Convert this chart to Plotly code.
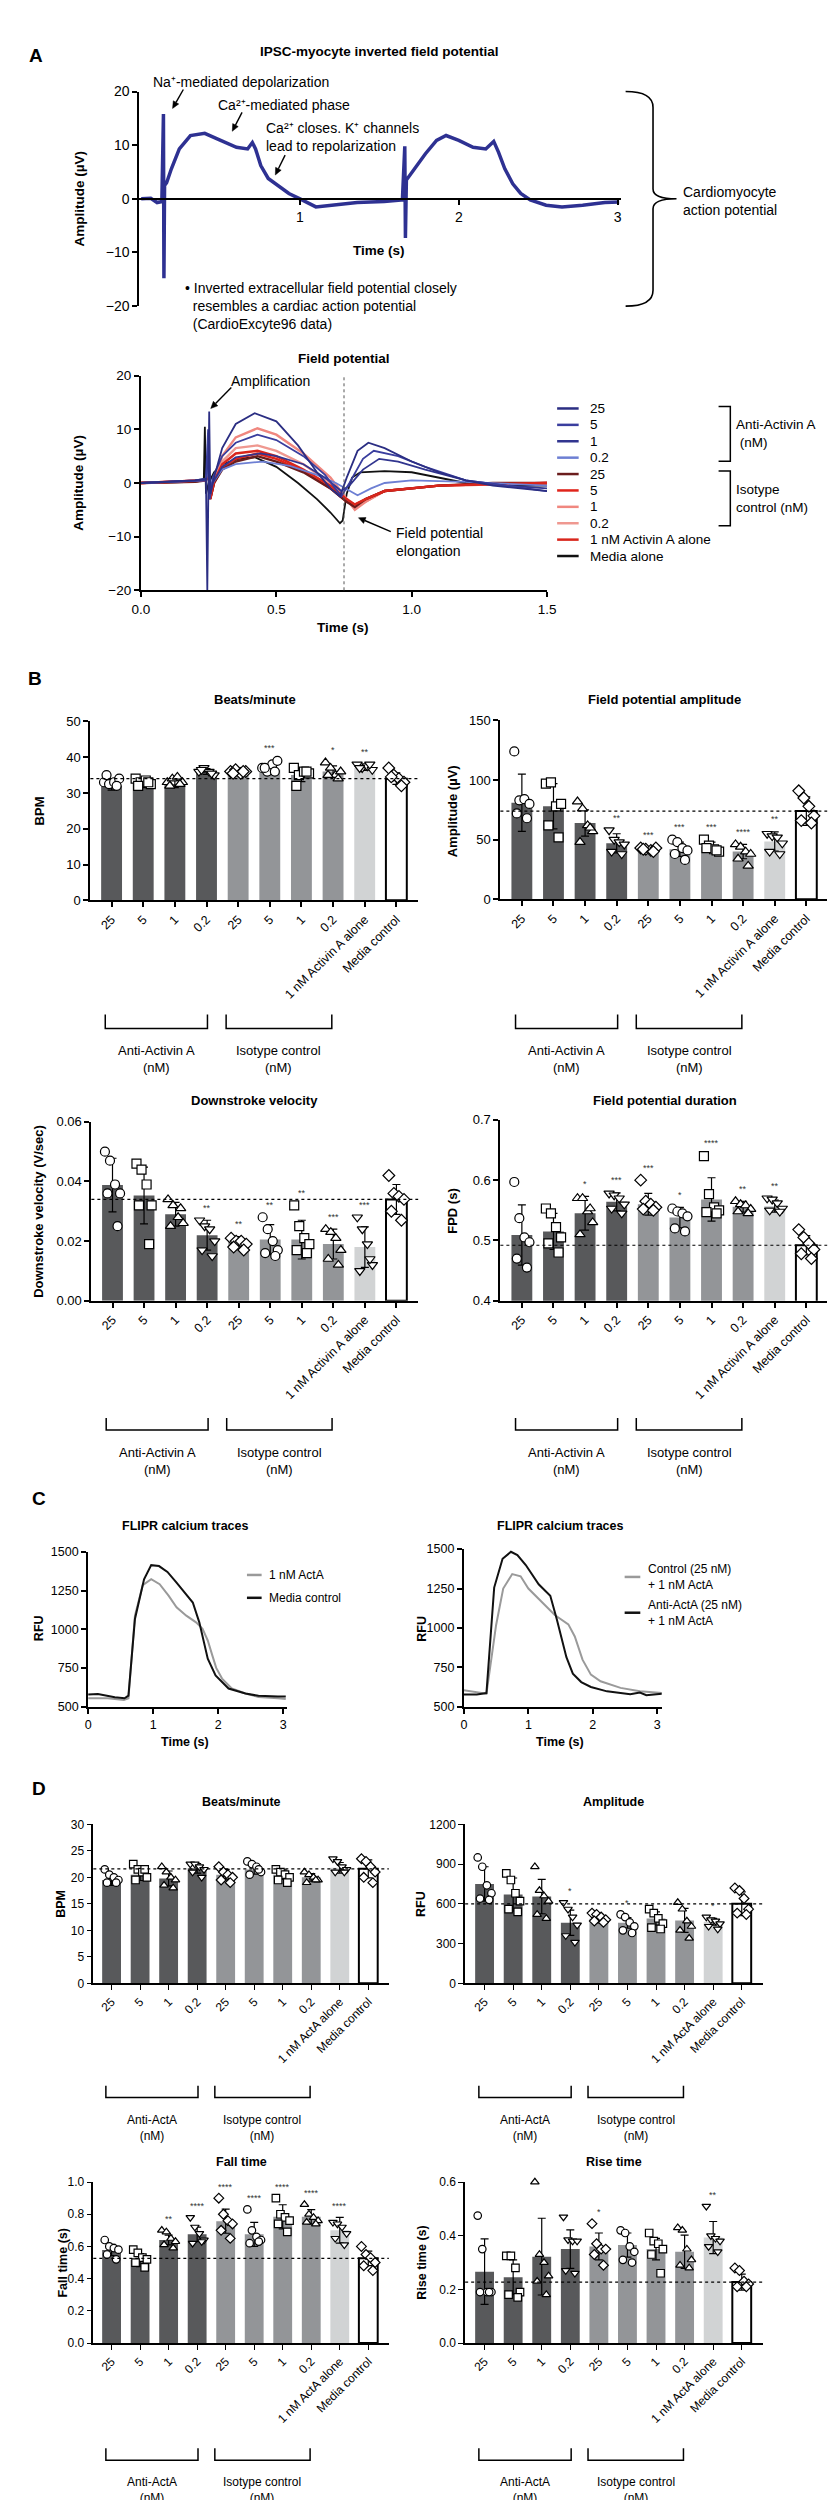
import math
import plotly.graph_objects as go

W, H = 837, 2500
FONT = "Arial, Liberation Sans, sans-serif"

# ---------------- A: inverted field potential (CardioExcyte96) ----------------
AP_TIME = [0.0, 0.06, 0.10, 0.13, 0.140, 0.143, 0.147, 0.16, 0.19, 0.24, 0.31, 0.40,
           0.50, 0.60, 0.67, 0.70, 0.72, 0.753, 0.80, 0.87, 0.93, 1.00, 1.10, 1.20,
           1.36, 1.53, 1.645, 1.660, 1.664, 1.670, 1.73, 1.79, 1.86, 1.92, 2.00, 2.09,
           2.17, 2.22, 2.25, 2.29, 2.34, 2.39, 2.45, 2.55, 2.65, 2.78, 2.92, 3.01]
AP_AMP = [0.0, 0.1, -0.7, -0.5, 15.8, -14.8, 2.5, 3.0, 5.6, 9.3, 11.8, 12.2,
          10.9, 9.6, 9.3, 10.5, 9.3, 6.2, 3.8, 2.2, 1.0, 0.0, -1.5, -1.2,
          -0.7, -0.5, -0.2, 9.8, -7.3, 3.5, 5.9, 8.4, 10.9, 11.8, 10.9, 9.6,
          9.3, 10.7, 8.7, 5.6, 2.8, 1.0, -0.2, -1.2, -1.5, -1.2, -0.7, -0.6]

# ---------------- A: field potential overlays ----------------
FP_LABELS = ["25", "5", "1", "0.2", "25", "5", "1", "0.2", "1 nM Activin A alone", "Media alone"]
FP_VLINE = 0.75

FP_A25_T = [0, 0.1, 0.2, 0.24, 0.245, 0.252, 0.256, 0.27, 0.3, 0.35, 0.42, 0.5, 0.58, 0.65,
            0.7, 0.735, 0.76, 0.8, 0.84, 0.9, 1.0, 1.1, 1.2, 1.3, 1.5]
FP_A25_V = [0, 0.2, 0.5, 0.8, -20, 13.3, -2, 1, 6.5, 11, 13, 11.5, 7, 2,
            -1, -2.5, 1, 6, 7.5, 6.5, 4, 2, 0.5, -0.5, -1.5]
FP_A5_T = [0, 0.2, 0.24, 0.248, 0.253, 0.265, 0.3, 0.35, 0.43, 0.5, 0.6, 0.68, 0.74, 0.77,
           0.82, 0.86, 0.95, 1.05, 1.2, 1.35, 1.5]
FP_A5_V = [0, 0.5, 0.8, 10, -3, 1, 5, 7.5, 9, 8, 5, 1.5, -2.5, 0,
           4.5, 6, 5, 3, 0.5, -0.5, -1.5]
FP_A1_T = [0, 0.2, 0.24, 0.248, 0.253, 0.265, 0.3, 0.35, 0.44, 0.5, 0.6, 0.68, 0.74, 0.77,
           0.82, 0.88, 0.95, 1.05, 1.2, 1.35, 1.5]
FP_A1_V = [0, 0.3, 0.5, 6, -3, 0, 3, 4.8, 5.5, 5, 3.5, 1, -1.5, -0.5,
           2.5, 4.5, 4, 2.5, 0.5, -0.5, -1]
FP_A02_T = [0, 0.2, 0.24, 0.248, 0.253, 0.265, 0.3, 0.35, 0.45, 0.55, 0.65, 0.72, 0.77, 0.8,
            0.85, 0.9, 1.0, 1.2, 1.5]
FP_A02_V = [0, 0.3, 0.5, 3, -2, 0, 2.5, 3.5, 4, 3.2, 1.5, 0, -1.5, -2.3,
            -1, 0, 0.5, 0.2, -0.5]
FP_ISO_T = [0, 0.2, 0.24, 0.25, 0.256, 0.27, 0.3, 0.35, 0.43, 0.5, 0.6, 0.7, 0.76, 0.79,
            0.83, 0.9, 1.0, 1.1, 1.3, 1.5]
FP_I25_V = [0, 0.2, 0.5, 2, -3, 0, 2.5, 4, 5, 4, 2, -1, -3.5, -4.5,
            -3, -1.5, -1, -0.5, 0, 0]
FP_I5_V = [0, 0.3, 0.5, 2.5, -3, 0, 2.8, 4.5, 5.5, 4.5, 2.2, -1, -3.5, -4,
           -3, -1.5, -1, -0.5, -0.2, 0]
FP_I1_V = [0, 0.3, 0.6, 3, -2.5, 0.5, 5, 8.5, 10.2, 9, 5.5, 1, -3, -5,
           -3.5, -1.5, -1, -0.5, -0.3, 0]
FP_I02_V = [0, 0.3, 0.6, 2.5, -2.5, 0.5, 4, 6.5, 7, 6, 3.5, 0, -3, -4.5,
            -3.5, -1.5, -1, -0.5, -0.3, 0]
FP_ALONE_V = [0, 0.3, 0.5, 2.5, -3, 0.3, 3.5, 5.5, 6, 5, 2.5, -0.5, -3, -4,
              -3, -1.5, -1, -0.5, -0.2, 0]
FP_MEDIA_T = [0, 0.2, 0.232, 0.236, 0.24, 0.25, 0.27, 0.3, 0.36, 0.42, 0.5, 0.58, 0.65,
              0.7, 0.735, 0.745, 0.76, 0.78, 0.81, 0.9, 1.0, 1.1, 1.2, 1.35, 1.5]
FP_MEDIA_V = [0, 0.2, 0.5, 10.5, -2, 0, 2, 3.5, 4.5, 4.8, 3, 0, -3,
              -5.5, -7.5, -7, -2, 1, 2, 2.2, 2, 1, 0, -0.5, -0.5]

# ---------------- B / D: bar charts ----------------
B_GROUPS = ["25", "5", "1", "0.2", "25", "5", "1", "0.2", "1 nM Activin A alone", "Media control"]
D_GROUPS = ["25", "5", "1", "0.2", "25", "5", "1", "0.2", "1 nM ActA alone", "Media control"]

B_BPM_MEAN = [32.0, 32.5, 32.5, 36.0, 35.5, 36.5, 35.0, 36.0, 37.0, 34.0]
B_BPM_SD = [1.2, 1.0, 1.0, 0.8, 0.5, 1.3, 1.8, 1.6, 0.7, 1.6]
B_BPM_PTS = [[33, 32.5, 33, 34, 35, 32], [34, 33, 33.5, 32.5, 32, 33], [33, 34, 34.5, 33, 32, 32.5],
             [36, 37, 36, 35, 36.5, 35.5], [36, 36.5, 35.5, 36, 35.5, 36], [37, 36, 38, 39, 37, 36],
             [37, 35, 36, 35.5, 32, 36], [38.5, 37, 35, 36, 35, 34], [38, 37, 37.5, 36.5, 37, 38],
             [37, 35, 34, 33, 34.5, 32]]
B_BPM_STARS = ["", "", "", "", "", "***", "", "*", "**", ""]

B_AMP_MEAN = [81, 78, 64, 47, 42, 42, 44, 40, 48.5, 74]
B_AMP_SD = [24, 19, 11, 8, 1.5, 6, 4, 6, 8, 12]
B_AMP_PTS = [[124, 83, 84, 80, 72, 68], [97, 98, 78, 80, 62, 52], [82, 76, 62, 57, 48, 60],
             [58, 50, 48, 46, 40, 38], [43, 42, 41, 43, 42, 40], [50, 48, 43, 41, 38, 33],
             [50, 45, 42, 40, 43, 41], [46, 44, 40, 38, 34, 28], [55, 53, 52, 47, 40, 38],
             [91, 85, 78, 70, 66, 64]]
B_AMP_STARS = ["", "", "", "**", "***", "***", "***", "****", "**", ""]

B_DSV_MEAN = [0.0388, 0.0353, 0.029, 0.022, 0.020, 0.0205, 0.0205, 0.019, 0.018, 0.034]
B_DSV_SD = [0.009, 0.0095, 0.004, 0.005, 0.0015, 0.005, 0.0065, 0.005, 0.0068, 0.005]
B_DSV_PTS = [[0.050, 0.047, 0.039, 0.036, 0.036, 0.025], [0.046, 0.044, 0.039, 0.032, 0.032, 0.019],
             [0.034, 0.032, 0.028, 0.026, 0.025, 0.031], [0.027, 0.025, 0.024, 0.020, 0.017, 0.015],
             [0.021, 0.020, 0.020, 0.019, 0.018, 0.017], [0.028, 0.024, 0.020, 0.017, 0.016, 0.015],
             [0.032, 0.025, 0.021, 0.019, 0.017, 0.016], [0.024, 0.023, 0.021, 0.017, 0.014, 0.012],
             [0.028, 0.024, 0.019, 0.012, 0.010, 0.014], [0.042, 0.036, 0.035, 0.034, 0.030, 0.027]]
B_DSV_STARS = ["", "", "", "**", "**", "**", "**", "***", "***", ""]

B_FPD_MEAN = [0.509, 0.515, 0.545, 0.564, 0.560, 0.538, 0.568, 0.556, 0.557, 0.492]
B_FPD_SD = [0.05, 0.03, 0.028, 0.015, 0.018, 0.017, 0.036, 0.009, 0.010, 0.016]
B_FPD_PTS = [[0.597, 0.537, 0.505, 0.497, 0.470, 0.455], [0.553, 0.545, 0.522, 0.505, 0.495, 0.480],
             [0.570, 0.570, 0.548, 0.530, 0.510, 0.553], [0.578, 0.575, 0.570, 0.560, 0.553, 0.545],
             [0.600, 0.565, 0.560, 0.555, 0.552, 0.550], [0.553, 0.548, 0.545, 0.540, 0.520, 0.515],
             [0.640, 0.577, 0.555, 0.550, 0.547, 0.545], [0.565, 0.560, 0.558, 0.552, 0.548, 0.545],
             [0.570, 0.568, 0.562, 0.553, 0.550, 0.548], [0.518, 0.505, 0.495, 0.485, 0.478, 0.470]]
B_FPD_STARS = ["", "", "*", "***", "***", "*", "****", "**", "**", ""]

D_BPM_MEAN = [19.5, 20.5, 19.8, 21.7, 20.5, 21.5, 20.5, 20.0, 21.8, 21.6]
D_BPM_SD = [1.0, 1.1, 1.4, 0.9, 1.0, 0.9, 0.9, 0.7, 1.0, 1.7]
D_BPM_PTS = [[21.5, 20.5, 20, 19.5, 19, 19], [22.5, 21.5, 21, 20, 19.5, 21.5], [22, 21, 20, 19.5, 18.5, 18],
             [22.5, 22.5, 22, 21.5, 21, 20], [22, 21, 20.5, 20, 19.5, 19], [23, 22.5, 22, 21, 20.5, 21.5],
             [21.5, 21, 20.5, 20, 19.5, 19], [21, 20.5, 20, 19.5, 19, 19.5], [23.5, 23, 22, 21.5, 21, 21],
             [23.5, 23, 22, 21, 20, 19]]
D_BPM_STARS = [""] * 10

D_AMP_MEAN = [750, 670, 655, 457, 487, 457, 490, 475, 465, 600]
D_AMP_SD = [130, 125, 130, 95, 30, 40, 50, 90, 25, 90]
D_AMP_PTS = [[950, 880, 740, 680, 640, 630], [830, 780, 680, 620, 560, 540], [880, 700, 660, 620, 520, 490],
             [610, 560, 500, 440, 360, 310], [530, 520, 500, 480, 470, 460], [520, 500, 460, 430, 400, 380],
             [560, 530, 490, 450, 420, 410], [610, 560, 470, 430, 400, 340], [500, 480, 470, 450, 430, 410],
             [720, 700, 640, 560, 530, 520]]
D_AMP_STARS = ["", "", "", "*", "", "*", "", "", "*", ""]

D_FALL_MEAN = [0.578, 0.515, 0.640, 0.675, 0.757, 0.675, 0.784, 0.784, 0.700, 0.526]
D_FALL_SD = [0.035, 0.04, 0.03, 0.045, 0.075, 0.075, 0.075, 0.045, 0.08, 0.045]
D_FALL_PTS = [[0.64, 0.60, 0.59, 0.58, 0.55, 0.52], [0.58, 0.56, 0.53, 0.52, 0.50, 0.47],
              [0.70, 0.69, 0.65, 0.63, 0.61, 0.59], [0.78, 0.72, 0.68, 0.64, 0.62, 0.63],
              [0.90, 0.80, 0.76, 0.74, 0.70, 0.65], [0.83, 0.70, 0.66, 0.64, 0.62, 0.63],
              [0.90, 0.80, 0.78, 0.76, 0.74, 0.69], [0.86, 0.80, 0.78, 0.76, 0.75, 0.74],
              [0.75, 0.74, 0.72, 0.68, 0.65, 0.61], [0.60, 0.55, 0.53, 0.50, 0.48, 0.45]]
D_FALL_STARS = ["", "", "**", "****", "****", "****", "****", "****", "****", ""]

D_RISE_MEAN = [0.266, 0.245, 0.322, 0.350, 0.360, 0.365, 0.350, 0.340, 0.393, 0.227]
D_RISE_SD = [0.122, 0.065, 0.143, 0.072, 0.05, 0.045, 0.04, 0.062, 0.06, 0.03]
D_RISE_PTS = [[0.475, 0.35, 0.19, 0.19, 0.19, 0.19], [0.325, 0.325, 0.28, 0.19, 0.18, 0.17],
              [0.60, 0.33, 0.30, 0.25, 0.23, 0.18], [0.47, 0.385, 0.38, 0.38, 0.27, 0.26],
              [0.445, 0.37, 0.35, 0.35, 0.33, 0.29], [0.42, 0.41, 0.36, 0.34, 0.31, 0.30],
              [0.41, 0.38, 0.37, 0.35, 0.33, 0.26], [0.43, 0.42, 0.35, 0.31, 0.29, 0.28],
              [0.51, 0.40, 0.39, 0.38, 0.36, 0.34], [0.28, 0.27, 0.23, 0.22, 0.21, 0.21]]
D_RISE_STARS = ["", "", "", "", "*", "", "", "", "**", ""]

# ---------------- C: FLIPR calcium traces ----------------
C1_ACTA_T = [0, 0.3, 0.55, 0.62, 0.72, 0.84, 0.97, 1.10, 1.24, 1.36, 1.51, 1.66, 1.76, 1.84,
             1.91, 1.97, 2.06, 2.21, 2.42, 2.62, 2.92, 3.04]
C1_ACTA_V = [555, 555, 544, 555, 1088, 1285, 1323, 1291, 1216, 1142, 1088, 1045, 1003, 928,
             832, 751, 682, 618, 586, 564, 555, 551]
C1_MEDIA_T = [0, 0.15, 0.41, 0.56, 0.62, 0.72, 0.86, 0.97, 1.09, 1.22, 1.36, 1.61, 1.71, 1.77,
              1.84, 1.96, 2.16, 2.42, 2.62, 2.92, 3.04]
C1_MEDIA_V = [579, 583, 562, 555, 572, 1067, 1323, 1414, 1408, 1370, 1301, 1173, 1045, 938,
              810, 703, 618, 586, 571, 566, 566]
C2_CTRL_T = [0, 0.2, 0.35, 0.5, 0.61, 0.75, 0.88, 1.0, 1.21, 1.41, 1.62, 1.72, 1.84, 1.97,
             2.12, 2.43, 2.73, 3.07]
C2_CTRL_V = [605, 590, 583, 1019, 1250, 1342, 1328, 1250, 1166, 1082, 1023, 946, 799, 704,
             662, 620, 599, 588]
C2_ANTI_T = [0, 0.2, 0.35, 0.47, 0.6, 0.73, 0.83, 0.96, 1.16, 1.34, 1.44, 1.59, 1.69, 1.82,
             1.97, 2.22, 2.58, 2.73, 2.83, 3.07]
C2_ANTI_V = [578, 578, 587, 1256, 1439, 1483, 1462, 1399, 1277, 1204, 1057, 815, 710, 657,
             626, 598, 579, 590, 573, 583]

# ---------------- styles ----------------
FP_COLORS = ["#2b2e83", "#3a3e9e", "#31358f", "#6d7fd3", "#6b1d1d", "#e0241b",
             "#f0877f", "#ef9890", "#d9261c", "#111111"]
BAR_FILL = ["#58595b"] * 4 + ["#939598"] * 4 + ["#d1d3d4", "#ffffff"]
BAR_EDGE = ["#58595b"] * 4 + ["#939598"] * 4 + ["#d1d3d4", "#000000"]
BAR_EDGE_W = [0] * 9 + [2]
SYMBOLS = ["circle", "square", "triangle-up", "triangle-down", "diamond",
           "circle", "square", "triangle-up", "triangle-down", "diamond"]
JITTER = [-0.24, -0.08, 0.08, 0.24, -0.16, 0.16]
BRACKETS = [(-0.2, 3.03), (3.62, 6.96)]

fig = go.Figure()
layout = dict(width=W, height=H, margin=dict(l=0, r=0, t=0, b=0),
              paper_bgcolor="white", plot_bgcolor="white", showlegend=False,
              font=dict(family=FONT, color="black", size=13))
annotations = []
shapes = []


def X(p):
    return p / W


def Y(p):
    return 1 - p / H


def text(x, y, s, size=13, bold=False, xanchor="center", angle=0, **kw):
    if bold:
        s = f"<b>{s}</b>"
    annotations.append(dict(x=X(x), y=Y(y), xref="paper", yref="paper", text=s,
                            showarrow=False, xanchor=xanchor, yanchor="middle",
                            textangle=angle, font=dict(size=size, family=FONT, color="black"), **kw))


def arrow(hx, hy, dx, dy):
    # straight shaft from tail to head plus a filled head, all in page pixels
    tx, ty = hx + dx, hy + dy
    d = math.hypot(dx, dy)
    ux, uy = -dx / d, -dy / d
    bx, by = hx - ux * 7, hy - uy * 7
    px_, py_ = -uy * 3.2, ux * 3.2
    shapes.append(dict(type="line", xref="paper", yref="paper", x0=X(tx), y0=Y(ty),
                       x1=X(bx), y1=Y(by), line=dict(color="black", width=1.4)))
    shapes.append(dict(type="path", xref="paper", yref="paper", fillcolor="black",
                       line=dict(color="black", width=0.5),
                       path=(f"M {X(hx)},{Y(hy)} L {X(bx + px_)},{Y(by + py_)} "
                             f"L {X(bx - px_)},{Y(by - py_)} Z")))


def axes(n, xpx, ypx, xrange, yrange, lw=2.0, tsize=13):
    k = "" if n == 1 else str(n)
    base = dict(showline=True, linecolor="black", linewidth=lw, ticks="outside", ticklen=5,
                tickwidth=max(1.0, lw * 0.75), tickcolor="black", showgrid=False, zeroline=False,
                tickfont=dict(size=tsize, family=FONT, color="black"), fixedrange=True)
    layout["xaxis" + k] = dict(base, domain=[X(xpx[0]), X(xpx[1])], range=xrange, anchor="y" + k)
    layout["yaxis" + k] = dict(base, domain=[Y(ypx[1]), Y(ypx[0])], range=yrange, anchor="x" + k)
    return layout["xaxis" + k], layout["yaxis" + k]


def refs(n):
    k = "" if n == 1 else str(n)
    return "x" + k, "y" + k


def line(n, t, v, color, width=2.0):
    xr, yr = refs(n)
    fig.add_trace(go.Scatter(x=t, y=v, mode="lines", line=dict(color=color, width=width),
                             xaxis=xr, yaxis=yr, hoverinfo="skip"))


def bar_panel(n, groups, means, sds, pts, stars, yrange, ytickvals, yticktext,
              xpx, ypx, xrange, msize, lw, bracket_y, labels):
    xr, yr = refs(n)
    xa, ya = axes(n, xpx, ypx, xrange, yrange, lw=lw, tsize=13 if lw > 1.8 else 12)
    xa.update(tickvals=list(range(len(groups))), ticktext=groups, tickangle=-45,
              tickfont=dict(size=12.5 if lw > 1.8 else 12, family=FONT, color="black"))
    ya.update(tickvals=ytickvals, ticktext=yticktext)
    fig.add_trace(go.Bar(x=list(range(len(means))), y=means, width=0.66,
                         marker=dict(color=BAR_FILL, line=dict(color=BAR_EDGE, width=BAR_EDGE_W)),
                         error_y=dict(type="data", array=sds, color="black", thickness=1.2, width=4),
                         xaxis=xr, yaxis=yr, hoverinfo="skip"))
    xs, ys, sy = [], [], []
    for i, grp in enumerate(pts):
        for j, v in enumerate(grp):
            xs.append(i + JITTER[j % len(JITTER)])
            ys.append(v)
            sy.append(SYMBOLS[i])
    fig.add_trace(go.Scatter(x=xs, y=ys, mode="markers", xaxis=xr, yaxis=yr, hoverinfo="skip",
                             cliponaxis=False,
                             marker=dict(symbol=sy, size=msize, color="white",
                                         line=dict(color="black", width=1.2))))
    span = yrange[1] - yrange[0]
    for i, s in enumerate(stars):
        if s:
            top = max(max(pts[i]), means[i] + sds[i])
            annotations.append(dict(x=i, y=top + 0.07 * span, xref=xr, yref=yr, text=s,
                                    showarrow=False, font=dict(size=9, family=FONT, color="#333333")))
    shapes.append(dict(type="line", xref=xr + " domain", yref=yr, x0=0, x1=1,
                       y0=means[-1], y1=means[-1], line=dict(color="black", width=1.2, dash="dot")))
    top_y, bot_y = bracket_y
    for (a, b), lab in zip(BRACKETS, labels):
        shapes.append(dict(type="path", xref=xr, yref="paper",
                           path=f"M {a},{Y(top_y)} L {a},{Y(bot_y)} L {b},{Y(bot_y)} L {b},{Y(top_y)}",
                           line=dict(color="black", width=1.5)))
        annotations.append(dict(x=(a + b) / 2, y=Y(bot_y + 13), xref=xr, yref="paper", text=lab,
                                showarrow=False, yanchor="top",
                                font=dict(size=13 if lw > 1.8 else 12, family=FONT, color="black")))


# ===== Panel A (top): inverted field potential =====
xa, ya = axes(1, (125, 617), (76, 292), [-0.012, 3.02], [-20, 20], tsize=14)
xa.update(anchor="free", position=Y(184), tickvals=[1, 2, 3])
ya.update(tickvals=[-20, -10, 0, 10, 20])
line(1, AP_TIME, AP_AMP, "#2e3192", 3.5)
text(19, 40, "A", 19, bold=True)
text(370, 36, "IPSC-myocyte inverted field potential", 13.5, bold=True)
text(64, 184, "Amplitude (µV)", 13.5, bold=True, angle=-90)
text(370, 236, "Time (s)", 13.5, bold=True)
text(137, 66, "Na⁺-mediated depolarization", 14, xanchor="left")
text(203, 90, "Ca²⁺-mediated phase", 14, xanchor="left")
text(252, 122, "Ca²⁺ closes. K⁺ channels<br>lead to repolarization", 14,
     xanchor="left", align="left")
arrow(159, 93, 11, -19)
arrow(220, 116, 10, -19)
arrow(264, 160, 10, -20)
text(170, 292, "• Inverted extracellular field potential closely<br>"
     "  resembles a cardiac action potential<br>  (CardioExcyte96 data)", 14,
     xanchor="left", align="left")
shapes.append(dict(type="path", xref="paper", yref="paper",
                   path=(f"M {X(622)},{Y(76)} Q {X(650)},{Y(76)} {X(650)},{Y(92)} "
                         f"L {X(650)},{Y(174)} Q {X(650)},{Y(184)} {X(674)},{Y(184)} "
                         f"Q {X(650)},{Y(184)} {X(650)},{Y(194)} L {X(650)},{Y(276)} "
                         f"Q {X(650)},{Y(292)} {X(622)},{Y(292)}"),
                   line=dict(color="black", width=1.6)))
text(679, 186, "Cardiomyocyte<br>action potential", 14, xanchor="left", align="left")

# ===== Panel A (bottom): field potential =====
xa, ya = axes(2, (126.7, 541.7), (362, 578), [0, 1.5], [-20, 20], tsize=13.5)
xa.update(tickvals=[0, 0.5, 1.0, 1.5], tickformat=".1f")
ya.update(tickvals=[-20, -10, 0, 10, 20])
fp_series = [(FP_A25_T, FP_A25_V), (FP_A5_T, FP_A5_V), (FP_A1_T, FP_A1_V), (FP_A02_T, FP_A02_V),
             (FP_ISO_T, FP_I25_V), (FP_ISO_T, FP_I5_V), (FP_ISO_T, FP_I1_V), (FP_ISO_T, FP_I02_V),
             (FP_ISO_T, FP_ALONE_V), (FP_MEDIA_T, FP_MEDIA_V)]
draw_order = [9, 7, 6, 5, 4, 8, 3, 2, 1, 0]
for i in draw_order:
    t, v = fp_series[i]
    line(2, t, v, FP_COLORS[i], 2.4 if 4 <= i <= 8 else 1.8)
shapes.append(dict(type="line", xref="x2", yref="y2 domain", x0=FP_VLINE, x1=FP_VLINE, y0=0, y1=1,
                   line=dict(color="#555555", width=1, dash="dot")))
text(334, 345, "Field potential", 13.5, bold=True)
text(63, 470, "Amplitude (µV)", 13.5, bold=True, angle=-90)
text(333, 615, "Time (s)", 13.5, bold=True)
text(259, 367, "Amplification", 14)
arrow(198, 395, 21, -21)
text(385, 529, "Field potential<br>elongation", 14, xanchor="left", align="left")
arrow(349, 505, 33, 14)
for i, lab in enumerate(FP_LABELS):
    yy = 395 + i * 16.5
    shapes.append(dict(type="line", xref="paper", yref="paper", x0=X(552), x1=X(574),
                       y0=Y(yy), y1=Y(yy), line=dict(color=FP_COLORS[i], width=2.5)))
    text(584, yy, lab, 13.5, xanchor="left")
for top, bot, lab in [(393, 448, "Anti-Activin A<br> (nM)"), (458, 513, "Isotype<br>control (nM)")]:
    shapes.append(dict(type="path", xref="paper", yref="paper",
                       path=f"M {X(717)},{Y(top)} L {X(729)},{Y(top)} L {X(729)},{Y(bot)} L {X(717)},{Y(bot)}",
                       line=dict(color="black", width=1.5)))
    text(733, (top + bot) / 2, lab, 13.5, xanchor="left", align="left")

# ===== Panel B =====
text(18, 667, "B", 19, bold=True)
B_BRK_LABELS = ["Anti-Activin A<br>(nM)", "Isotype control<br>(nM)"]
bar_panel(3, B_GROUPS, B_BPM_MEAN, B_BPM_SD, B_BPM_PTS, B_BPM_STARS, [0, 50],
          [0, 10, 20, 30, 40, 50], ["0", "10", "20", "30", "40", "50"],
          (75, 410), (710, 890), [-0.67, 9.69], 9, 2, (1005, 1019), B_BRK_LABELS)
text(243, 688, "Beats/minute", 13, bold=True)
text(23, 800, "BPM", 13, bold=True, angle=-90)

bar_panel(4, B_GROUPS, B_AMP_MEAN, B_AMP_SD, B_AMP_PTS, B_AMP_STARS, [0, 150],
          [0, 50, 100, 150], ["0", "50", "100", "150"],
          (494, 828), (709, 889), [-0.68, 9.66], 9, 2, (1005, 1019), B_BRK_LABELS)
text(662, 688, "Field potential amplitude", 13, bold=True)
text(445, 800, "Amplitude (µV)", 13, bold=True, angle=-90)

bar_panel(5, B_GROUPS, B_DSV_MEAN, B_DSV_SD, B_DSV_PTS, B_DSV_STARS, [0, 0.06],
          [0, 0.02, 0.04, 0.06], ["0.00", "0.02", "0.04", "0.06"],
          (76, 410), (1113, 1293), [-0.67, 9.69], 9, 2, (1411, 1423), B_BRK_LABELS)
text(243, 1091, "Downstroke velocity", 13, bold=True)
text(22, 1203, "Downstroke velocity (V/sec)", 13, bold=True, angle=-90)

bar_panel(6, B_GROUPS, B_FPD_MEAN, B_FPD_SD, B_FPD_PTS, B_FPD_STARS, [0.4, 0.7],
          [0.4, 0.5, 0.6, 0.7], ["0.4", "0.5", "0.6", "0.7"],
          (494, 828), (1111, 1293), [-0.68, 9.66], 9, 2, (1411, 1423), B_BRK_LABELS)
text(662, 1091, "Field potential duration", 13, bold=True)
text(445, 1202, "FPD (s)", 13, bold=True, angle=-90)

# ===== Panel C =====
text(22, 1492, "C", 19, bold=True)
for n, xpx, ypx, xr_max, title_x in [(7, (72.7, 276), (1545.7, 1701.7), 3.06, 172),
                                     (8, (456.7, 659), (1543, 1701.7), 3.07, 555)]:
    xa, ya = axes(n, xpx, ypx, [0, xr_max], [500, 1500], lw=2, tsize=12.5)
    xa.update(tickvals=[0, 1, 2, 3])
    ya.update(tickvals=[500, 750, 1000, 1250, 1500])
    text(title_x, 1520, "FLIPR calcium traces", 12.5, bold=True)
    text(title_x, 1737, "Time (s)", 12.5, bold=True)
line(7, C1_ACTA_T, C1_ACTA_V, "#9a9a9a", 2)
line(7, C1_MEDIA_T, C1_MEDIA_V, "#111111", 2)
line(8, C2_CTRL_T, C2_CTRL_V, "#9a9a9a", 2)
line(8, C2_ANTI_T, C2_ANTI_V, "#111111", 2)
text(22, 1623, "RFU", 12.5, bold=True, angle=-90)
text(414, 1623, "RFU", 12.5, bold=True, angle=-90)
for x0, x1, yy, col, lab in [(235, 250, 1569, "#9a9a9a", "1 nM ActA"),
                             (235, 250, 1592, "#111111", "Media control"),
                             (621, 637, 1571, "#9a9a9a", "Control (25 nM)<br>+ 1 nM ActA"),
                             (621, 637, 1607, "#111111", "Anti-ActA (25 nM)<br>+ 1 nM ActA")]:
    shapes.append(dict(type="line", xref="paper", yref="paper", x0=X(x0), x1=X(x1),
                       y0=Y(yy), y1=Y(yy), line=dict(color=col, width=2.5)))
    text(x1 + 6, yy, lab, 12, xanchor="left", align="left")

# ===== Panel D =====
text(22, 1784, "D", 19, bold=True)
D_BRK_LABELS = ["Anti-ActA<br>(nM)", "Isotype control<br>(nM)"]
bar_panel(9, D_GROUPS, D_BPM_MEAN, D_BPM_SD, D_BPM_PTS, D_BPM_STARS, [0, 30],
          [0, 5, 10, 15, 20, 25, 30], ["0", "5", "10", "15", "20", "25", "30"],
          (78, 380), (1820, 1980), [-0.64, 9.72], 7.5, 1.5, (2083, 2095), D_BRK_LABELS)
text(229, 1798, "Beats/minute", 12.5, bold=True)
text(45, 1900, "BPM", 12.5, bold=True, angle=-90)

bar_panel(10, D_GROUPS, D_AMP_MEAN, D_AMP_SD, D_AMP_PTS, D_AMP_STARS, [0, 1200],
          [0, 300, 600, 900, 1200], ["0", "300", "600", "900", "1200"],
          (458, 762), (1820, 1980), [-0.68, 9.73], 7.5, 1.5, (2083, 2095), D_BRK_LABELS)
text(610, 1798, "Amplitude", 12.5, bold=True)
text(413, 1900, "RFU", 12.5, bold=True, angle=-90)

bar_panel(11, D_GROUPS, D_FALL_MEAN, D_FALL_SD, D_FALL_PTS, D_FALL_STARS, [0, 1.0],
          [0, 0.2, 0.4, 0.6, 0.8, 1.0], ["0.0", "0.2", "0.4", "0.6", "0.8", "1.0"],
          (78, 380), (2180, 2342), [-0.64, 9.72], 7.5, 1.5, (2448, 2460), D_BRK_LABELS)
text(229, 2160, "Fall time", 12.5, bold=True)
text(47, 2261, "Fall time (s)", 12.5, bold=True, angle=-90)

bar_panel(12, D_GROUPS, D_RISE_MEAN, D_RISE_SD, D_RISE_PTS, D_RISE_STARS, [0, 0.6],
          [0, 0.2, 0.4, 0.6], ["0.0", "0.2", "0.4", "0.6"],
          (458, 762), (2180, 2342), [-0.68, 9.73], 7.5, 1.5, (2448, 2460), D_BRK_LABELS)
text(610, 2160, "Rise time", 12.5, bold=True)
text(413, 2261, "Rise time (s)", 12.5, bold=True, angle=-90)

layout["annotations"] = annotations
layout["shapes"] = shapes
fig.update_layout(**layout)
fig.write_html("out.html")
